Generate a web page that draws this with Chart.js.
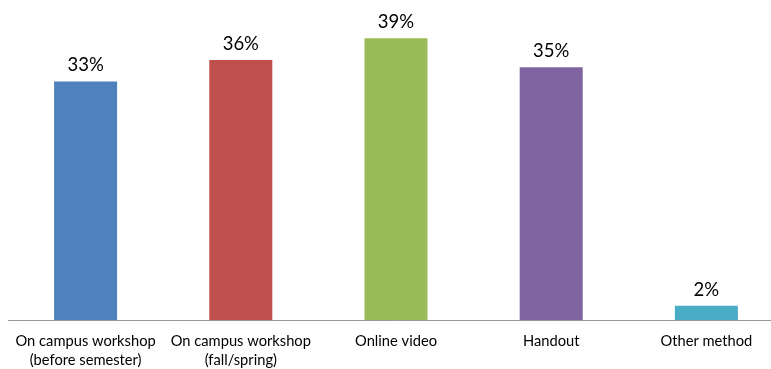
<!DOCTYPE html>
<html>
<head>
<meta charset="utf-8">
<script src="https://cdn.jsdelivr.net/npm/chart.js@4"></script>
<style>
  html, body { margin: 0; padding: 0; background: #fff; overflow: hidden; }
  #wrap { width: 785px; height: 369px; }
</style>
</head>
<body>
<div id="wrap"><canvas id="methodChart" width="785" height="369"></canvas></div>
<script>
const categories = [
  ["On campus workshop", "(before semester)"],
  ["On campus workshop", "(fall/spring)"],
  ["Online video"],
  ["Handout"],
  ["Other method"],
];
const shares = [33, 36, 39, 35, 2];
const barColors = ["#4F81BD", "#C0504D", "#9BBB59", "#8064A2", "#4BACC6"];

// writes the percentage above each bar
const valueLabels = {
  id: "valueLabels",
  afterDatasetsDraw(chart) {
    const ctx = chart.ctx;
    const meta = chart.getDatasetMeta(0);
    ctx.save();
    ctx.font = "18.5px Lato";
    ctx.fillStyle = "#000";
    ctx.textAlign = "center";
    ctx.textBaseline = "bottom";
    meta.data.forEach((bar, i) => {
      ctx.fillText(shares[i] + "%", bar.x, bar.y - 7);
    });
    ctx.restore();
  },
};

const ctx = document.getElementById("methodChart").getContext("2d");
new Chart(ctx, {
  type: "bar",
  data: {
    labels: categories,
    datasets: [
      {
        data: shares,
        backgroundColor: barColors,
        borderWidth: 0,
        categoryPercentage: 1,
        barPercentage: 0.406,
      },
    ],
  },
  options: {
    responsive: false,
    animation: false,
    layout: { padding: { left: 8, right: 1, top: 31, bottom: -12 } },
    plugins: {
      legend: { display: false },
      tooltip: { enabled: false },
    },
    scales: {
      x: {
        grid: { display: false, drawTicks: false },
        border: { display: true, color: "#999", width: 1 },
        ticks: {
          color: "#000",
          font: { family: "Lato", size: 14.7, lineHeight: 1.25 },
          padding: 12,
          maxRotation: 0,
          autoSkip: false,
        },
      },
      y: {
        display: false,
        min: 0,
        max: 40,
      },
    },
  },
  plugins: [valueLabels],
});
</script>
</body>
</html>
